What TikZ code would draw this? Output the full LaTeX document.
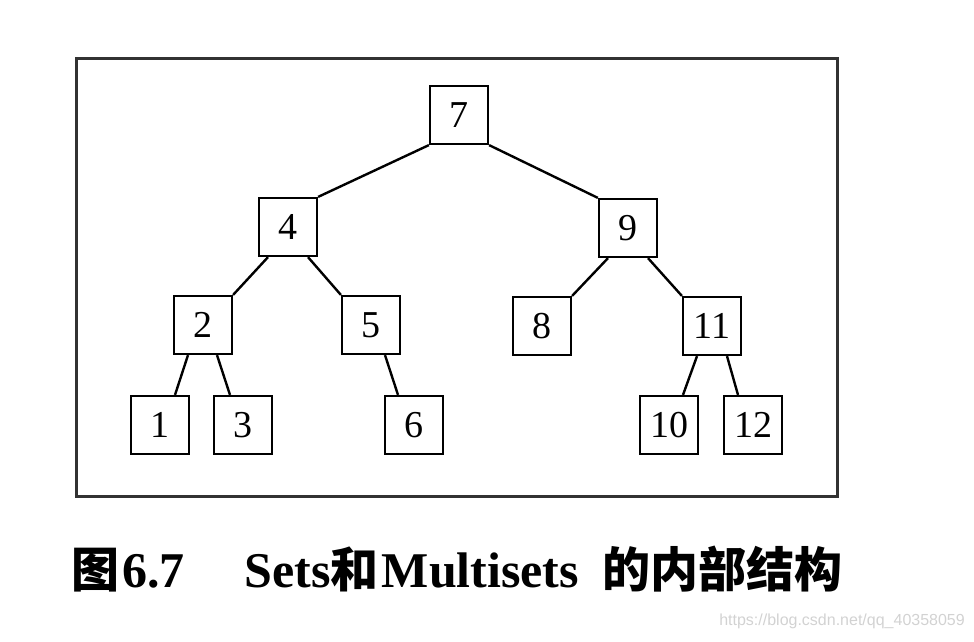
\documentclass[tikz,border=0pt]{standalone}
\usepackage{fontspec}
\setmainfont{Liberation Serif}
\newfontfamily\cjk{Noto Sans CJK SC}
\newfontfamily\urlfont{Liberation Sans}
\usetikzlibrary{positioning}
\definecolor{framegray}{RGB}{50,50,50}
\definecolor{markgray}{RGB}{210,210,210}
\newcommand{\cjkbig}[1]{{\cjk\fontsize{48}{50}\selectfont #1}}

\tikzset{
  keybox/.style={draw,line width=2.2pt,minimum size=58pt,inner sep=0pt,
    font=\fontsize{38}{40}\selectfont},
  link/.style={line width=2.4pt},
}

\begin{document}
\begin{tikzpicture}[x=1pt,y=-1pt]
  \useasboundingbox (0,0) rectangle (974,641);
  % outer frame
  \draw[framegray,line width=3pt] (76,58) rectangle (837,496);
  %
  % tree nodes
  \node[keybox] (n7) at (459,115) {7};
  \node[keybox] (n4) at (288,227) {4};
  \node[keybox] (n9) at (628,228) {9};
  \node[keybox] (n2) at (203,325) {2};
  \node[keybox] (n5) at (371,325) {5};
  \node[keybox] (n8) at (542,326) {8};
  \node[keybox] (n11) at (712,326) {11};
  \node[keybox] (n1) at (160,425) {1};
  \node[keybox] (n3) at (243,425) {3};
  \node[keybox] (n6) at (414,425) {6};
  \node[keybox] (n10) at (669,425) {10};
  \node[keybox] (n12) at (753,425) {12};
  %
  % links
  \draw[link] (n7.south west) -- (n4.north east);
  \draw[link] (n7.south east) -- (n9.north west);
  \draw[link] ([xshift=-20pt]n4.south) -- (n2.north east);
  \draw[link] ([xshift=20pt]n4.south) -- (n5.north west);
  \draw[link] ([xshift=-20pt]n9.south) -- (n8.north east);
  \draw[link] ([xshift=20pt]n9.south) -- (n11.north west);
  \draw[link] ([xshift=-15pt]n2.south) -- ([xshift=15pt]n1.north);
  \draw[link] ([xshift=14pt]n2.south) -- ([xshift=-13pt]n3.north);
  \draw[link] ([xshift=14pt]n5.south) -- ([xshift=-16pt]n6.north);
  \draw[link] ([xshift=-15pt]n11.south) -- ([xshift=14pt]n10.north);
  \draw[link] ([xshift=15pt]n11.south) -- ([xshift=-15pt]n12.north);
  %
  % caption
  \node[anchor=base west,inner sep=0pt,font=\bfseries\fontsize{50}{52}\selectfont] (caption) at (71,587)
    {\cjkbig{图}\hspace{3pt}6.7\hspace{60pt}Sets\cjkbig{和}\hspace{3pt}Multisets\hspace{23pt}\cjkbig{的内部结构}};
  \node[anchor=base east,inner sep=0pt,text=markgray,font=\urlfont\fontsize{16}{18}\selectfont] (mark) at (965,625)
    {https://blog.csdn.net/qq\_40358059};
\end{tikzpicture}
\end{document}
